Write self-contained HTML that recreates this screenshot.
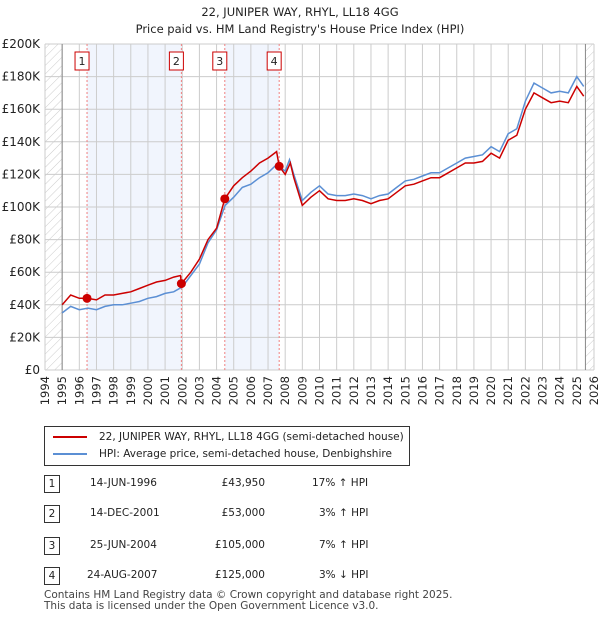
<!DOCTYPE html>
<html><head><meta charset="utf-8"><style>
body{margin:0;background:#fff;font-family:"Liberation Sans","DejaVu Sans",sans-serif;}
#wrap{position:relative;width:600px;height:620px;overflow:hidden;}
svg text{font-family:"DejaVu Sans","Liberation Sans",sans-serif;}
.tbl span{white-space:nowrap;}
</style></head><body>
<div id="wrap">
<svg id="chart" width="600" height="620"></svg>
</div>
<script>
const years=[1994,1995,1996,1997,1998,1999,2000,2001,2002,2003,2004,2005,2006,2007,2008,2009,2010,2011,2012,2013,2014,2015,2016,2017,2018,2019,2020,2021,2022,2023,2024,2025,2026];
const yTicks=[0,20,40,60,80,100,120,140,160,180,200];
const hpiT=[1995,1995.5,1996,1996.5,1997,1997.5,1998,1998.5,1999,1999.5,2000,2000.5,2001,2001.5,2002,2002.5,2003,2003.5,2004,2004.5,2005,2005.5,2006,2006.5,2007,2007.5,2008,2008.25,2008.5,2009,2009.5,2010,2010.5,2011,2011.5,2012,2012.5,2013,2013.5,2014,2014.5,2015,2015.5,2016,2016.5,2017,2017.5,2018,2018.5,2019,2019.5,2020,2020.5,2021,2021.5,2022,2022.5,2023,2023.5,2024,2024.5,2025,2025.4];
const hpiV=[35,39,37,38,37,39,40,40,41,42,44,45,47,48,51,58,65,78,86,101,106,112,114,118,121,126,122,129,120,104,109,113,108,107,107,108,107,105,107,108,112,116,117,119,121,121,124,127,130,131,132,137,134,145,148,165,176,173,170,171,170,180,174];
const paidT=[1995,1995.5,1996,1996.45,1997,1997.5,1998,1998.5,1999,1999.5,2000,2000.5,2001,2001.5,2001.9,2001.95,2002.5,2003,2003.5,2004,2004.48,2005,2005.5,2006,2006.5,2007,2007.5,2007.65,2008,2008.3,2008.5,2009,2009.5,2010,2010.5,2011,2011.5,2012,2012.5,2013,2013.5,2014,2014.5,2015,2015.5,2016,2016.5,2017,2017.5,2018,2018.5,2019,2019.5,2020,2020.5,2021,2021.5,2022,2022.5,2023,2023.5,2024,2024.5,2025,2025.4];
const paidV=[40,46,44,44,43,46,46,47,48,50,52,54,55,57,58,53,60,68,80,87,105,113,118,122,127,130,134,125,120,127,118,101,106,110,105,104,104,105,104,102,104,105,109,113,114,116,118,118,121,124,127,127,128,133,130,141,144,160,170,167,164,165,164,174,168];
const saleT=[1996.45,2001.95,2004.48,2007.65];
const saleV=[43.95,53,105,125];
const X0=45,X1=594,Y0=370,Y1=44;
const xs=t=>X0+(t-1994)/(2026-1994)*(X1-X0);
const ys=v=>Y0-v/200*(Y0-Y1);
const svg=document.getElementById('chart');
const NS='http://www.w3.org/2000/svg';
function mk(tag,at,parent){const e=document.createElementNS(NS,tag);for(const k in at)e.setAttribute(k,at[k]);(parent||svg).appendChild(e);return e;}
const defs=mk('defs',{});
const pat=mk('pattern',{id:'hatch',width:6,height:6,patternUnits:'userSpaceOnUse',patternTransform:'rotate(45)'},defs);
mk('line',{x1:0,y1:0,x2:0,y2:6,stroke:'#ccc','stroke-width':1},pat);
let t=mk('text',{x:300,y:16,'text-anchor':'middle','font-size':11.5,fill:'#222'});t.textContent='22, JUNIPER WAY, RHYL, LL18 4GG';


t=mk('text',{x:300,y:33,'text-anchor':'middle','font-size':11.5,fill:'#222'});t.textContent="Price paid vs. HM Land Registry's House Price Index (HPI)";


let r=mk('rect',{x:X0,y:Y1,width:xs(1995)-X0,height:Y0-Y1,fill:'url(#hatch)'});


r=mk('rect',{x:xs(2025.5),y:Y1,width:X1-xs(2025.5),height:Y0-Y1,fill:'url(#hatch)'});


[[0,1],[2,3]].forEach((p,i)=>{const b=mk('rect',{x:xs(saleT[p[0]]),y:Y1,width:xs(saleT[p[1]])-xs(saleT[p[0]]),height:Y0-Y1,fill:'#eef3fc',opacity:0.8});

});
years.forEach(y=>{const l=mk('line',{x1:xs(y),x2:xs(y),y1:Y1,y2:Y0,stroke:'#ccc','stroke-width':1});


const tx=mk('text',{transform:`translate(${xs(y)+4},${Y0+6}) rotate(-90)`,'text-anchor':'end','font-size':11.5,fill:'#222'});tx.textContent=y;

});
yTicks.forEach(v=>{const l=mk('line',{x1:X0,x2:X1,y1:ys(v),y2:ys(v),stroke:'#ccc','stroke-width':1});


const tx=mk('text',{x:40,y:ys(v)+4,'text-anchor':'end','font-size':12,fill:'#222'});tx.textContent='£'+(v===0?'0':v+'K');

});
let ax=mk('line',{x1:xs(1995),x2:xs(1995),y1:Y1,y2:Y0,stroke:'#888'});


ax=mk('line',{x1:xs(2025.5),x2:xs(2025.5),y1:Y1,y2:Y0,stroke:'#888'});


saleT.forEach((s,i)=>{const l=mk('line',{x1:xs(s),x2:xs(s),y1:Y1,y2:Y0,stroke:'#f08080','stroke-width':1,'stroke-dasharray':'2,2'});


const bx=mk('rect',{x:xs(s)-12,y:52,width:14,height:18,fill:'#fff',stroke:'#c00'});


const tx=mk('text',{x:xs(s)-5,y:65,'text-anchor':'middle','font-size':11,fill:'#222'});tx.textContent=i+1;

});
const path=(T,V)=>T.map((tt,i)=>(i?'L':'M')+xs(tt).toFixed(1)+','+ys(V[i]).toFixed(1)).join('');
let p=mk('path',{d:path(hpiT,hpiV),fill:'none',stroke:'#5b8fd4','stroke-width':1.5});


p=mk('path',{d:path(paidT,paidV),fill:'none',stroke:'#cc0000','stroke-width':1.5});


saleT.forEach((s,i)=>{const c=mk('circle',{cx:xs(s),cy:ys(saleV[i]),r:4.5,fill:'#cc0000'});

});
</script>
<div style="position:absolute;left:44px;top:426px;width:364px;height:38px;border:1px solid #333;background:#fff;font-family:'DejaVu Sans','Liberation Sans',sans-serif;font-size:10.5px;color:#222;">
<div style="position:absolute;left:8px;top:4px;white-space:nowrap;"><span style="display:inline-block;width:34px;border-top:2px solid #c00;vertical-align:middle;margin-right:12px;"></span>22, JUNIPER WAY, RHYL, LL18 4GG (semi-detached house)</div>
<div style="position:absolute;left:8px;top:21px;white-space:nowrap;"><span style="display:inline-block;width:34px;border-top:2px solid #5b8fd4;vertical-align:middle;margin-right:12px;"></span>HPI: Average price, semi-detached house, Denbighshire</div>
</div>
<div class="tbl" style="position:absolute;left:0;top:0;font-family:'DejaVu Sans','Liberation Sans',sans-serif;font-size:10.5px;color:#222;">
<div><span style="position:absolute;left:44px;top:475px;width:14px;height:16px;border:1px solid #333;text-align:center;line-height:16px;">1</span><span style="position:absolute;left:90px;top:477px;">14-JUN-1996</span><span style="position:absolute;left:205px;top:477px;width:60px;text-align:right;">£43,950</span><span style="position:absolute;left:312px;top:477px;">17% ↑ HPI</span></div>
<div><span style="position:absolute;left:44px;top:505px;width:14px;height:16px;border:1px solid #333;text-align:center;line-height:16px;">2</span><span style="position:absolute;left:90px;top:507px;">14-DEC-2001</span><span style="position:absolute;left:205px;top:507px;width:60px;text-align:right;">£53,000</span><span style="position:absolute;left:319px;top:507px;">3% ↑ HPI</span></div>
<div><span style="position:absolute;left:44px;top:537px;width:14px;height:16px;border:1px solid #333;text-align:center;line-height:16px;">3</span><span style="position:absolute;left:90px;top:539px;">25-JUN-2004</span><span style="position:absolute;left:205px;top:539px;width:60px;text-align:right;">£105,000</span><span style="position:absolute;left:319px;top:539px;">7% ↑ HPI</span></div>
<div><span style="position:absolute;left:44px;top:567px;width:14px;height:16px;border:1px solid #333;text-align:center;line-height:16px;">4</span><span style="position:absolute;left:87px;top:569px;">24-AUG-2007</span><span style="position:absolute;left:205px;top:569px;width:60px;text-align:right;">£125,000</span><span style="position:absolute;left:319px;top:569px;">3% ↓ HPI</span></div>
</div>
<div style="position:absolute;left:44px;top:590px;font-family:'DejaVu Sans','Liberation Sans',sans-serif;font-size:10.5px;color:#444;line-height:11px;white-space:nowrap;">Contains HM Land Registry data © Crown copyright and database right 2025.<br>This data is licensed under the Open Government Licence v3.0.</div>
</body></html>
